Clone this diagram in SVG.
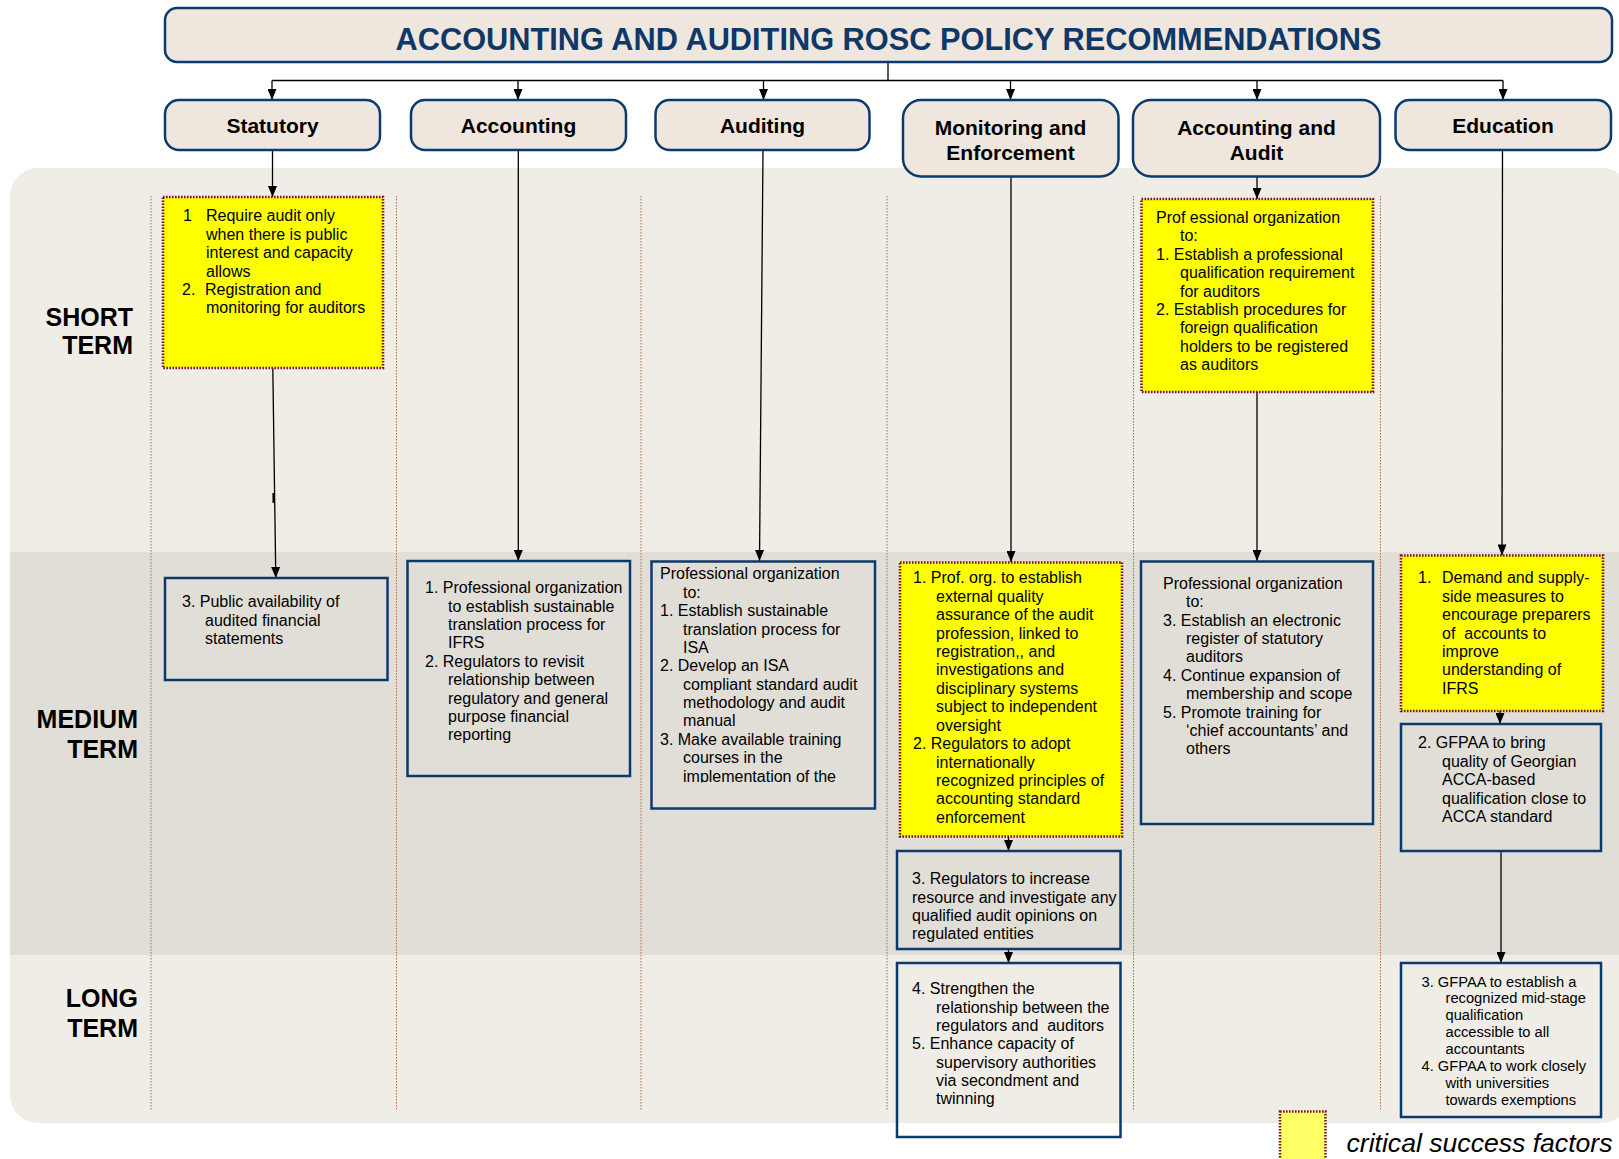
<svg xmlns="http://www.w3.org/2000/svg" width="1619" height="1159" viewBox="0 0 1619 1159">
  <style>
    .hdr { fill: #efe7de; stroke: #0b3a6e; stroke-width: 2.5; }
    .hdrt { font-family: "Liberation Sans", Arial, sans-serif; font-weight: bold; font-size: 21px; fill: #000; text-anchor: middle; }
    .title { font-family: "Liberation Sans", Arial, sans-serif; font-weight: bold; font-size: 32px; fill: #0d3868; text-anchor: middle; }
    .crit { fill: #ffff00; stroke: #7f1020; stroke-width: 2.6; stroke-dasharray: 1.6 1.4; }
    .box { fill: none; stroke: #0b3a6e; stroke-width: 2.5; }
    .t { font-family: "Liberation Sans", Arial, sans-serif; font-size: 16px; fill: #000; }
    .ts { font-family: "Liberation Sans", Arial, sans-serif; font-size: 14.7px; fill: #000; }
    .lbl { font-family: "Liberation Sans", Arial, sans-serif; font-weight: bold; font-size: 25px; fill: #000; text-anchor: end; }
    .sep { stroke: #b06a48; stroke-width: 1; stroke-dasharray: 1.5 1.5; fill: none; }
    .conn { stroke: #000; stroke-width: 1.3; fill: none; }
    .legend { font-family: "Liberation Sans", Arial, sans-serif; font-style: italic; font-size: 26.6px; fill: #000; }
  </style>
  <defs>
    <marker id="ah" viewBox="0 0 11 9" refX="11" refY="4.5" markerWidth="11" markerHeight="9" markerUnits="userSpaceOnUse" orient="auto">
      <path d="M0,0 L11,4.5 L0,9 z" fill="#000"/>
    </marker>
    <clipPath id="panelClip">
      <rect x="10" y="168" width="1620" height="955" rx="28"/>
    </clipPath>
    <clipPath id="auditClip">
      <rect x="650" y="560" width="226" height="222.5"/>
    </clipPath>
  </defs>

  <rect width="1619" height="1159" fill="#ffffff"/>

  <!-- time bands -->
  <g id="bands" clip-path="url(#panelClip)">
    <rect x="10" y="168" width="1620" height="384" fill="#f0ede6"/>
    <rect x="10" y="552" width="1620" height="403" fill="#e1ded7"/>
    <rect x="10" y="955" width="1620" height="168" fill="#f0ede6"/>
  </g>

  <!-- column separators -->
  <g id="separators">
    <line class="sep" x1="151" y1="196" x2="151" y2="1111"/>
    <line class="sep" x1="396.5" y1="196" x2="396.5" y2="1111"/>
    <line class="sep" x1="641" y1="196" x2="641" y2="1111"/>
    <line class="sep" x1="887" y1="196" x2="887" y2="1111"/>
    <line class="sep" x1="1133.5" y1="196" x2="1133.5" y2="1111"/>
    <line class="sep" x1="1380.5" y1="196" x2="1380.5" y2="1111"/>
  </g>

  <!-- row labels -->
  <g id="row-labels">
    <text class="lbl"><tspan x="133" y="326">SHORT</tspan><tspan x="133" y="354">TERM</tspan></text>
    <text class="lbl"><tspan x="138" y="728">MEDIUM</tspan><tspan x="138" y="758">TERM</tspan></text>
    <text class="lbl"><tspan x="138" y="1007">LONG</tspan><tspan x="138" y="1037">TERM</tspan></text>
  </g>

  <!-- connectors -->
  <g id="connectors">
    <line class="conn" x1="888" y1="62" x2="888" y2="80.5"/>
    <line class="conn" x1="272" y1="80.5" x2="1503" y2="80.5"/>
    <line class="conn" x1="272" y1="80.5" x2="272" y2="100" marker-end="url(#ah)"/>
    <line class="conn" x1="518" y1="80.5" x2="518" y2="100" marker-end="url(#ah)"/>
    <line class="conn" x1="763.5" y1="80.5" x2="763.5" y2="100" marker-end="url(#ah)"/>
    <line class="conn" x1="1010.5" y1="80.5" x2="1010.5" y2="100" marker-end="url(#ah)"/>
    <line class="conn" x1="1257" y1="80.5" x2="1257" y2="100" marker-end="url(#ah)"/>
    <line class="conn" x1="1503" y1="80.5" x2="1503" y2="100" marker-end="url(#ah)"/>

    <line class="conn" x1="272.5" y1="150" x2="272.5" y2="197" marker-end="url(#ah)"/>
    <line class="conn" x1="272.8" y1="368" x2="275.8" y2="578" marker-end="url(#ah)"/>
    <line x1="273.6" y1="493" x2="273.7" y2="503" stroke="#000" stroke-width="2.4"/>

    <line class="conn" x1="518.3" y1="150" x2="518.3" y2="561" marker-end="url(#ah)"/>
    <line class="conn" x1="763" y1="150" x2="759.5" y2="561" marker-end="url(#ah)"/>

    <line class="conn" x1="1011" y1="177" x2="1011" y2="562" marker-end="url(#ah)"/>
    <line class="conn" x1="1008.5" y1="837" x2="1008.5" y2="851" marker-end="url(#ah)"/>
    <line class="conn" x1="1008.5" y1="949" x2="1008.5" y2="963" marker-end="url(#ah)"/>

    <line class="conn" x1="1257" y1="177" x2="1257" y2="199" marker-end="url(#ah)"/>
    <line class="conn" x1="1257" y1="392" x2="1257" y2="561" marker-end="url(#ah)"/>

    <line class="conn" x1="1502.5" y1="150" x2="1502" y2="555.5" marker-end="url(#ah)"/>
    <line class="conn" x1="1500" y1="711" x2="1500" y2="724" marker-end="url(#ah)"/>
    <line class="conn" x1="1501" y1="851" x2="1501" y2="963" marker-end="url(#ah)"/>
  </g>

  <!-- title -->
  <g id="title">
    <rect class="hdr" x="165" y="8" width="1447" height="54" rx="12"/>
    <text class="title" x="888.5" y="50" textLength="986" lengthAdjust="spacingAndGlyphs">ACCOUNTING AND AUDITING ROSC POLICY RECOMMENDATIONS</text>
  </g>

  <!-- category headers -->
  <g id="hdr-statutory">
    <rect class="hdr" x="165" y="100" width="215" height="50" rx="14"/>
    <text class="hdrt" x="272.5" y="133">Statutory</text>
  </g>
  <g id="hdr-accounting">
    <rect class="hdr" x="411" y="100" width="215" height="50" rx="14"/>
    <text class="hdrt" x="518.5" y="133">Accounting</text>
  </g>
  <g id="hdr-auditing">
    <rect class="hdr" x="655.5" y="100" width="214" height="50" rx="14"/>
    <text class="hdrt" x="762.5" y="133">Auditing</text>
  </g>
  <g id="hdr-monitoring">
    <rect class="hdr" x="903" y="100" width="215.5" height="76.5" rx="18"/>
    <text class="hdrt"><tspan x="1010.5" y="135">Monitoring and</tspan><tspan x="1010.5" y="160">Enforcement</tspan></text>
  </g>
  <g id="hdr-acc-audit">
    <rect class="hdr" x="1133" y="100" width="247" height="76.5" rx="18"/>
    <text class="hdrt"><tspan x="1256.5" y="135">Accounting and</tspan><tspan x="1256.5" y="160">Audit</tspan></text>
  </g>
  <g id="hdr-education">
    <rect class="hdr" x="1395.5" y="100" width="215.5" height="50" rx="14"/>
    <text class="hdrt" x="1503" y="133">Education</text>
  </g>

  <!-- Statutory column -->
  <g id="statutory-short">
    <rect class="crit" x="163" y="197" width="220" height="171"/>
    <text class="t">
      <tspan x="183" y="221">1</tspan><tspan x="206" y="221">Require audit only</tspan>
      <tspan x="206" y="239.5">when there is public</tspan>
      <tspan x="206" y="258">interest and capacity</tspan>
      <tspan x="206" y="276.5">allows</tspan>
      <tspan x="182" y="295">2.</tspan><tspan x="205" y="295">Registration and</tspan>
      <tspan x="206" y="313">monitoring for auditors</tspan>
    </text>
  </g>
  <g id="statutory-medium">
    <rect class="box" x="165" y="578" width="222.5" height="102"/>
    <text class="t">
      <tspan x="182" y="607">3. Public availability of</tspan>
      <tspan x="205" y="625.5">audited financial</tspan>
      <tspan x="205" y="643.5">statements</tspan>
    </text>
  </g>

  <!-- Accounting column -->
  <g id="accounting-medium">
    <rect class="box" x="407.5" y="561" width="222.5" height="215"/>
    <text class="t">
      <tspan x="425" y="593">1. Professional organization</tspan>
      <tspan x="448" y="611.5">to establish sustainable</tspan>
      <tspan x="448" y="630">translation process for</tspan>
      <tspan x="448" y="648">IFRS</tspan>
      <tspan x="425" y="666.5">2. Regulators to revisit</tspan>
      <tspan x="448" y="685">relationship between</tspan>
      <tspan x="448" y="703.5">regulatory and general</tspan>
      <tspan x="448" y="722">purpose financial</tspan>
      <tspan x="448" y="740">reporting</tspan>
    </text>
  </g>

  <!-- Auditing column -->
  <g id="auditing-medium">
    <rect class="box" x="651.5" y="561.5" width="223.5" height="247"/>
    <text class="t" clip-path="url(#auditClip)">
      <tspan x="660" y="579">Professional organization</tspan>
      <tspan x="683" y="597.5">to:</tspan>
      <tspan x="660" y="616">1. Establish sustainable</tspan>
      <tspan x="683" y="634.5">translation process for</tspan>
      <tspan x="683" y="653">ISA</tspan>
      <tspan x="660" y="671">2. Develop an ISA</tspan>
      <tspan x="683" y="689.5">compliant standard audit</tspan>
      <tspan x="683" y="708">methodology and audit</tspan>
      <tspan x="683" y="726">manual</tspan>
      <tspan x="660" y="745">3. Make available training</tspan>
      <tspan x="683" y="763">courses in the</tspan>
      <tspan x="683" y="781.5">implementation of the</tspan>
    </text>
  </g>

  <!-- Monitoring and Enforcement column -->
  <g id="monitoring-medium-1">
    <rect class="crit" x="900" y="562.5" width="222" height="274"/>
    <text class="t">
      <tspan x="913" y="583">1. Prof. org. to establish</tspan>
      <tspan x="936" y="601.5">external quality</tspan>
      <tspan x="936" y="620">assurance of the audit</tspan>
      <tspan x="936" y="638.5">profession, linked to</tspan>
      <tspan x="936" y="657">registration,, and</tspan>
      <tspan x="936" y="675">investigations and</tspan>
      <tspan x="936" y="693.5">disciplinary systems</tspan>
      <tspan x="936" y="712">subject to independent</tspan>
      <tspan x="936" y="730.5">oversight</tspan>
      <tspan x="913" y="749">2. Regulators to adopt</tspan>
      <tspan x="936" y="767.5">internationally</tspan>
      <tspan x="936" y="786">recognized principles of</tspan>
      <tspan x="936" y="804">accounting standard</tspan>
      <tspan x="936" y="822.5">enforcement</tspan>
    </text>
  </g>
  <g id="monitoring-medium-2">
    <rect class="box" x="897" y="851" width="223.5" height="98"/>
    <text class="t">
      <tspan x="912" y="884">3. Regulators to increase</tspan>
      <tspan x="912" y="902.5">resource and investigate any</tspan>
      <tspan x="912" y="921">qualified audit opinions on</tspan>
      <tspan x="912" y="939">regulated entities</tspan>
    </text>
  </g>
  <g id="monitoring-long">
    <rect class="box" x="897" y="963" width="223.5" height="174"/>
    <text class="t" xml:space="preserve"><tspan x="912" y="994">4. Strengthen the</tspan><tspan x="936" y="1012.5">relationship between the</tspan><tspan x="936" y="1031">regulators and  auditors</tspan><tspan x="912" y="1049">5. Enhance capacity of</tspan><tspan x="936" y="1067.5">supervisory authorities</tspan><tspan x="936" y="1086">via secondment and</tspan><tspan x="936" y="1104">twinning</tspan></text>
  </g>

  <!-- Accounting and Audit column -->
  <g id="acc-audit-short">
    <rect class="crit" x="1141.5" y="199" width="231.5" height="193"/>
    <text class="t">
      <tspan x="1156" y="222.5">Prof essional organization</tspan>
      <tspan x="1180" y="241">to:</tspan>
      <tspan x="1156" y="259.5">1. Establish a professional</tspan>
      <tspan x="1180" y="278">qualification requirement</tspan>
      <tspan x="1180" y="296.5">for auditors</tspan>
      <tspan x="1156" y="315">2. Establish procedures for</tspan>
      <tspan x="1180" y="333">foreign qualification</tspan>
      <tspan x="1180" y="351.5">holders to be registered</tspan>
      <tspan x="1180" y="370">as auditors</tspan>
    </text>
  </g>
  <g id="acc-audit-medium">
    <rect class="box" x="1141" y="561.5" width="232" height="262.5"/>
    <text class="t">
      <tspan x="1163" y="589">Professional organization</tspan>
      <tspan x="1186" y="607">to:</tspan>
      <tspan x="1163" y="625.5">3. Establish an electronic</tspan>
      <tspan x="1186" y="644">register of statutory</tspan>
      <tspan x="1186" y="662">auditors</tspan>
      <tspan x="1163" y="680.5">4. Continue expansion of</tspan>
      <tspan x="1186" y="699">membership and scope</tspan>
      <tspan x="1163" y="717.5">5. Promote training for</tspan>
      <tspan x="1186" y="736">‘chief accountants’ and</tspan>
      <tspan x="1186" y="754">others</tspan>
    </text>
  </g>

  <!-- Education column -->
  <g id="education-medium-1">
    <rect class="crit" x="1401" y="555.5" width="202" height="155.5"/>
    <text class="t" xml:space="preserve"><tspan x="1418" y="583">1.</tspan><tspan x="1442" y="583">Demand and supply-</tspan><tspan x="1442" y="601.5">side measures to</tspan><tspan x="1442" y="620">encourage preparers</tspan><tspan x="1442" y="638.5">of  accounts to</tspan><tspan x="1442" y="657">improve</tspan><tspan x="1442" y="675">understanding of</tspan><tspan x="1442" y="693.5">IFRS</tspan></text>
  </g>
  <g id="education-medium-2">
    <rect class="box" x="1401" y="724" width="200" height="127"/>
    <text class="t">
      <tspan x="1418" y="748">2. GFPAA to bring</tspan>
      <tspan x="1442" y="766.5">quality of Georgian</tspan>
      <tspan x="1442" y="785">ACCA-based</tspan>
      <tspan x="1442" y="803.5">qualification close to</tspan>
      <tspan x="1442" y="822">ACCA standard</tspan>
    </text>
  </g>
  <g id="education-long">
    <rect class="box" x="1401" y="963" width="200" height="154"/>
    <text class="ts">
      <tspan x="1421.5" y="986.5">3. GFPAA to establish a</tspan>
      <tspan x="1445.5" y="1003.3">recognized mid-stage</tspan>
      <tspan x="1445.5" y="1020">qualification</tspan>
      <tspan x="1445.5" y="1037">accessible to all</tspan>
      <tspan x="1445.5" y="1054">accountants</tspan>
      <tspan x="1421.5" y="1071">4. GFPAA to work closely</tspan>
      <tspan x="1445.5" y="1087.7">with universities</tspan>
      <tspan x="1445.5" y="1104.5">towards exemptions</tspan>
    </text>
  </g>

  <!-- legend -->
  <g id="legend">
    <rect x="1280" y="1111.5" width="45.5" height="60" fill="#ffff66" stroke="#7f1020" stroke-width="2.6" stroke-dasharray="1.6 1.4"/>
    <text class="legend" x="1346.5" y="1152">critical success factors</text>
  </g>
</svg>
